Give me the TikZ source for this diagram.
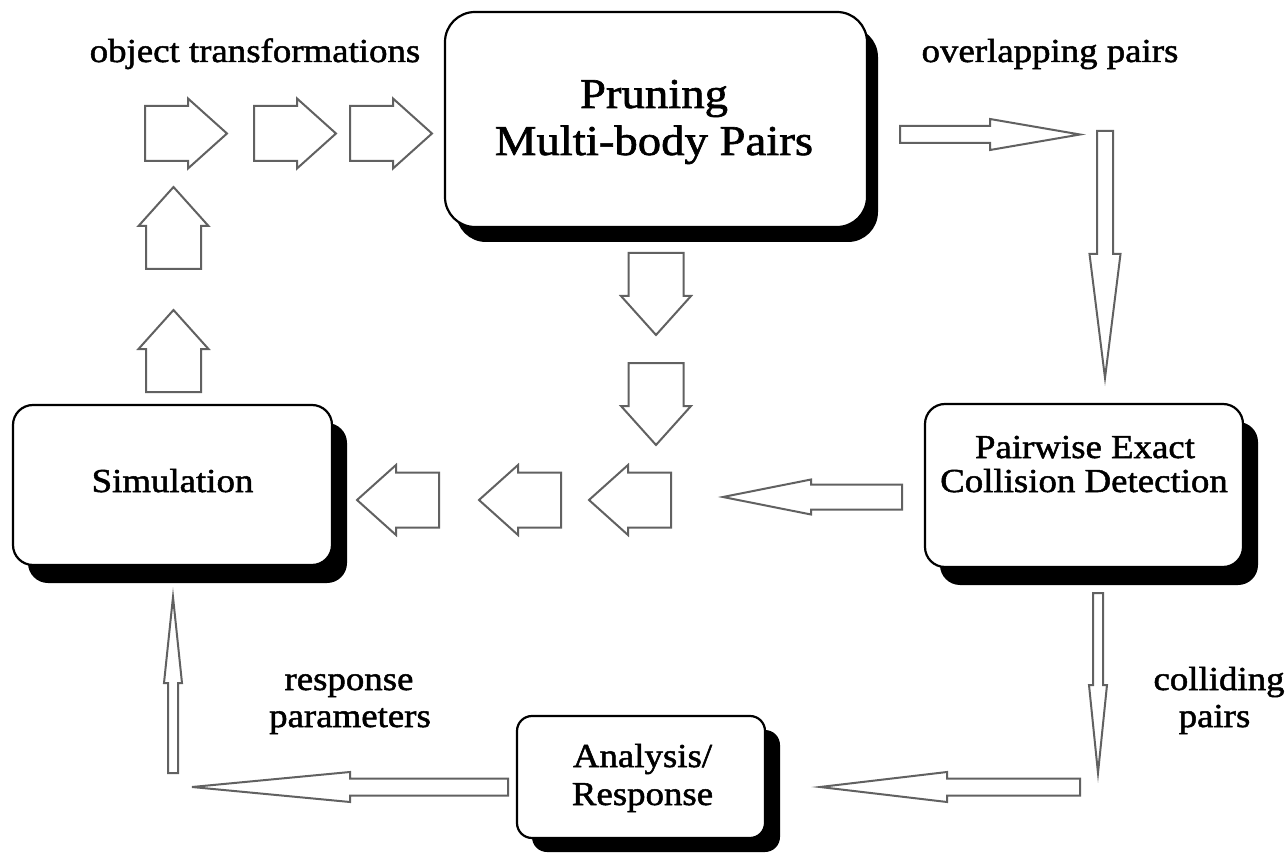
\documentclass[tikz,border=0pt]{standalone}
\usepackage{fontspec}
\setmainfont{Liberation Serif}[FakeStretch=1.1, FakeBold=1.5]
\usetikzlibrary{shadows}

\tikzset{
  box/.style={draw=black, line width=2.2pt, fill=white, rounded corners=#1, inner sep=0pt},
  box/.default=20pt,
  solidshadow/.style 2 args={drop shadow={shadow xshift=#1, shadow yshift=#2, fill=black, opacity=1}},
  txt/.style={font=\fontsize{33.5}{40}\selectfont, anchor=base, inner sep=0pt},
  bigtxt/.style={font=\fontsize{42.5}{47}\selectfont, anchor=base, inner sep=0pt},
  arrowline/.style={draw=black!62, line width=2pt, line join=miter, fill=white},
  % fat hollow block arrow, tail centre at the origin, pointing along +x
  pics/fatarrow/.style={code={
    \draw[arrowline] (0,-27.5) -- (43,-27.5) -- (43,-35) -- (82,0)
      -- (43,35) -- (43,27.5) -- (0,27.5) -- cycle;}},
  % long slim hollow arrow: {length}{head length}{shaft width}{head width}
  pics/slimarrow/.style n args={4}{code={
    \draw[arrowline] (0,-#3/2) -- (#1-#2,-#3/2) -- (#1-#2,-#4/2) -- (#1,0)
      -- (#1-#2,#4/2) -- (#1-#2,#3/2) -- (0,#3/2) -- cycle;}},
}

\begin{document}
\begin{tikzpicture}[x=1pt, y=-1pt]
  \useasboundingbox (0,0) rectangle (1286,853);

  % process boxes
  \node[box=30pt, solidshadow={11pt}{-15pt}, minimum width=422pt, minimum height=215pt]
    (prune) at (656,119.5) {};
  \node[box, solidshadow={15pt}{-18pt}, minimum width=319pt, minimum height=160pt]
    (sim) at (172.5,485) {};
  \node[box, solidshadow={15pt}{-18pt}, minimum width=318pt, minimum height=163pt]
    (pair) at (1084,485.5) {};
  \node[box=15pt, solidshadow={15pt}{-14pt}, minimum width=248pt, minimum height=122pt]
    (anal) at (641,777) {};

  % box texts
  \node[bigtxt] (pruneA) at (654,108) {Pruning};
  \node[bigtxt] (pruneB) at (654,155) {Multi-body Pairs};
  \node[txt] (simT) at (172.5,492) {Simulation};
  \node[txt] (pairA) at (1085,458) {Pairwise Exact};
  \node[txt] (pairB) at (1084,492) {Collision Detection};
  \node[txt] (analA) at (642.5,767) {Analysis/};
  \node[txt] (analB) at (642.5,805) {Response};

  % data labels
  \node[txt] (objT) at (255,62) {object transformations};
  \node[txt] (ovlT) at (1050,62) {overlapping pairs};
  \node[txt] (respA) at (349,690) {response};
  \node[txt] (respB) at (350,727) {parameters};
  \node[txt] (collA) at (1219,690) {colliding};
  \node[txt] (collB) at (1214.5,727) {pairs};

  % object transformations: simulation -> pruning
  \pic[rotate=90] at (173.5,392) {fatarrow};
  \pic[rotate=90] at (173.5,269) {fatarrow};
  \pic at (145,133.5) {fatarrow};
  \pic at (254,133.5) {fatarrow};
  \pic at (350,133.5) {fatarrow};

  % direct path: pruning -> simulation
  \pic[rotate=-90] at (656,253) {fatarrow};
  \pic[rotate=-90] at (656,363) {fatarrow};
  \pic[rotate=180] at (671,500) {fatarrow};
  \pic[rotate=180] at (561,500) {fatarrow};
  \pic[rotate=180] at (439,500) {fatarrow};

  % overlapping pairs: pruning -> exact detection
  \pic at (900,134.5) {slimarrow={180}{90}{17}{31}};
  \pic[rotate=-90] at (1105,131) {slimarrow={247}{124}{16}{31}};

  % no collision: exact detection -> simulation path
  \pic[rotate=180] at (902,497) {slimarrow={179}{88}{25}{35}};

  % colliding pairs: exact detection -> analysis
  \pic[rotate=-90] at (1098,593) {slimarrow={180}{88}{10}{18}};
  \pic[rotate=180] at (1080,787) {slimarrow={260}{127}{17}{30}};

  % response parameters: analysis -> simulation
  \pic[rotate=180] at (508,787) {slimarrow={316}{158}{17}{30}};
  \pic[rotate=90] at (173,773) {slimarrow={176}{86}{10}{18}};
\end{tikzpicture}
\end{document}
